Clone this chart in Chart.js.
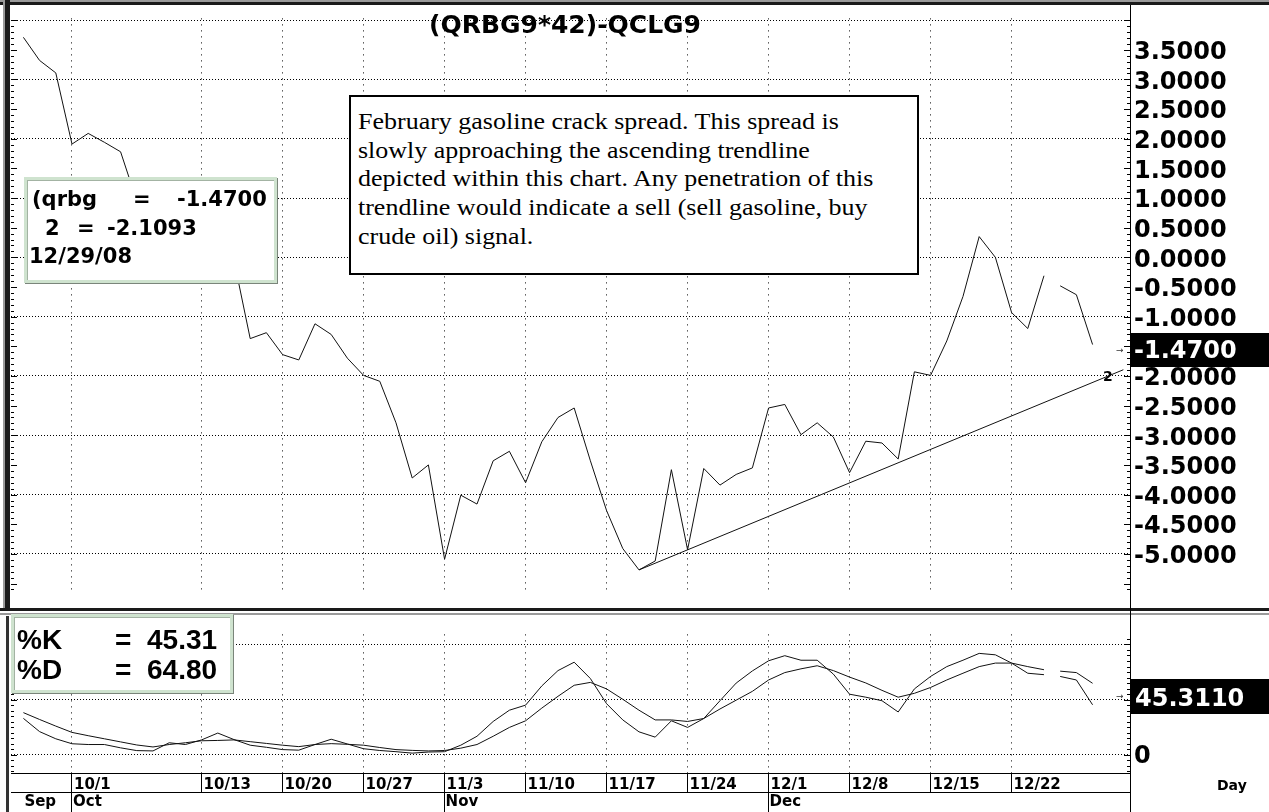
<!DOCTYPE html>
<html>
<head>
<meta charset="utf-8">
<title>(QRBG9*42)-QCLG9</title>
<script src="https://cdn.jsdelivr.net/npm/chart.js@4.4.1/dist/chart.umd.min.js"></script>
<style>
  body { margin: 0; background: #fff; width: 1269px; height: 812px; overflow: hidden; position: relative; }
  canvas { position: absolute; left: 0; }
  #painel { top: 0; }
  #estoc { top: 616px; }
  .bar { position: absolute; }
  .t { position: absolute; white-space: pre; }
  .caixa { position: absolute; box-sizing: border-box; background: #fff; }
  .verde { border: 3px solid #cfe3cf; box-shadow: 1px 1px 0 #7a857a, inset 1px 1px 0 #a3b3a3; }
</style>
</head>
<body>
<canvas id="painel" width="1269" height="608"></canvas>
<canvas id="estoc" width="1269" height="196"></canvas>
<script>
// one slot per weekday, 9/26/08 .. 12/29/08
let xMin = -0.765;
let xMax = 68.31;

// (QRBG9*42)-QCLG9 daily close
let spread = [
  3.71, 3.32, 3.11, 1.91, 2.09, 1.94, 1.78, 0.95, 0.55, 0.75,
  0.35, 0.45, 0.10, -0.05, -1.37, -1.27, -1.64, -1.73, -1.12, -1.30,
  -1.70, -1.99, -2.09, -2.79, -3.72, -3.50, -5.09, -4.01, -4.16, -3.43,
  -3.27, -3.80, -3.11, -2.70, -2.54, -3.43, -4.27, -4.91, -5.27, -5.12,
  -3.58, -4.93, -3.56, -3.84, -3.66, -3.55, -2.54, -2.48, -2.99, -2.79,
  -3.03, -3.63, -3.10, -3.13, -3.40, -1.93, -1.99, -1.41, -0.66, 0.35,
  0.00, -0.93, -1.20, -0.31, -0.48, -0.63, -1.47
];

// stochastic
let pctK = [
  33, 21, 14.5, 10, 9.3, 9.3, 6.3, 3.8, 3.5, 10.9,
  9.3, 13.5, 19.7, 13.8, 8.7, 6.8, 4.7, 4.2, 9.3, 14.1,
  9.8, 5.5, 3.9, 2.8, 1.5, 2.5, 2.8, 8.7, 16.8, 30.2,
  40.4, 45, 62.4, 76.3, 83.9, 69.1, 46.3, 31.6, 20.8, 16,
  30.8, 24.8, 32.9, 49, 65, 76, 85.2, 89.8, 85.7, 85.7,
  73.1, 54.9, 52.2, 49, 38.8, 59.7, 71, 79.9, 85.7, 91.9,
  90.6, 83.1, 73.9, 72.6, 71, 67.8, 45.31
];
let pctD = [
  38.2, 32, 26, 20.3, 17.3, 14.5, 11.7, 8.9, 7.1, 9.3,
  10.9, 12.7, 13, 13.5, 11.9, 10.3, 8.7, 7.4, 9.3, 10.1,
  9.5, 8.7, 6.6, 4.7, 4, 3.5, 3.9, 6, 9.3, 16.8,
  24.8, 30.8, 42.3, 53, 63, 65.6, 59.7, 50.3, 40.4, 31.6,
  31.6, 30.2, 32.9, 41.5, 49.5, 57.5, 67.8, 74.5, 77.9, 80.7,
  76.3, 70.4, 65.1, 58.4, 52.2, 55.7, 61, 67.8, 73.9, 79.9,
  83.1, 83.1, 79.9, 77.1, 75.8, 74.5, 64.8
];
let gapAfter = 63; // no segment 12/24 -> 12/25

// trendline "2"
let trendX = [38, 67.9];
let trendY = [-5.27, -1.895];

let dateSlots = [3, 11, 16, 21, 26, 31, 36, 41, 46, 51, 56, 61];
let dateLabels = ["10/1", "10/13", "10/20", "10/27", "11/3", "11/10", "11/17", "11/24", "12/1", "12/8", "12/15", "12/22"];
let monthSlots = [0, 3, 26, 46];
let monthLabels = ["Sep", "Oct", "Nov", "Dec"];

let priceTicks = [4.0, 3.5, 3.0, 2.5, 2.0, 1.5, 1.0, 0.5, 0.0, -0.5, -1.0, -1.5, -2.0, -2.5, -3.0, -3.5, -4.0, -4.5, -5.0];
let stochTicks = [0, 50, 100];

let tinta = "#111";
let pontos = arr => arr.map((v, i) => ({ x: i, y: v }));
let corGap = c => c.p0DataIndex === gapAfter ? "rgba(0,0,0,0)" : tinta;

// small tick marks along both vertical edges
let marquinhas = {
  id: "marquinhas",
  afterDraw(chart, args, opts) {
    let ctx = chart.ctx;
    let a = chart.chartArea;
    let y = chart.scales.y;
    ctx.save();
    ctx.strokeStyle = "#000";
    ctx.lineWidth = 1;
    ctx.beginPath();
    let n0 = Math.ceil(y.min / opts.step);
    let n1 = Math.floor(y.max / opts.step);
    for (let n = n0; n <= n1; n++) {
      let py = Math.round(y.getPixelForValue(n * opts.step)) + 0.5;
      let len = n % opts.major === 0 ? 6 : 3;
      ctx.moveTo(a.left, py); ctx.lineTo(a.left + len, py);
      ctx.moveTo(a.right - len, py); ctx.lineTo(a.right, py);
    }
    ctx.stroke();
    ctx.restore();
  }
};

let fonteEixo = { family: "DejaVu Sans", weight: "bold", size: 24 };
let fonteData = { family: "DejaVu Sans", weight: "bold", size: 15 };

new Chart(document.getElementById("painel"), {
  type: "line",
  data: {
    datasets: [
      { data: pontos(spread), borderColor: tinta, borderWidth: 1, pointRadius: 0, tension: 0, segment: { borderColor: corGap } },
      { data: trendX.map((x, i) => ({ x: x, y: trendY[i] })), borderColor: tinta, borderWidth: 1, pointRadius: 0 }
    ]
  },
  options: {
    responsive: false,
    animation: false,
    devicePixelRatio: 1,
    layout: { padding: { left: 11, top: 8, right: 0, bottom: 0 } },
    plugins: { legend: { display: false }, tooltip: { enabled: false }, marquinhas: { step: 0.1, major: 5 } },
    scales: {
      x: {
        type: "linear", min: xMin, max: xMax,
        afterBuildTicks: s => { s.ticks = dateSlots.map(v => ({ value: v })); },
        ticks: { display: false },
        grid: { color: "#000", drawTicks: false },
        border: { display: false, dash: [1, 5] }
      },
      y: {
        position: "right", min: -5.602, max: 4.029,
        afterBuildTicks: s => { s.ticks = priceTicks.map(v => ({ value: v })); },
        afterFit: s => { s.width = 139; },
        ticks: { color: "#000", font: fonteEixo, padding: 4, labelOffset: 3, callback: v => v > 3.6 ? "" : v.toFixed(4) },
        grid: { color: c => Number.isInteger(c.tick.value) ? "#000" : "rgba(0,0,0,0)", drawTicks: false },
        border: { display: true, color: "#000", dash: [1, 2] }
      }
    }
  },
  plugins: [marquinhas]
});

new Chart(document.getElementById("estoc"), {
  type: "line",
  data: {
    datasets: [
      { data: pontos(pctK), borderColor: tinta, borderWidth: 1, pointRadius: 0, tension: 0, segment: { borderColor: corGap } },
      { data: pontos(pctD), borderColor: tinta, borderWidth: 1, pointRadius: 0, tension: 0, segment: { borderColor: corGap } }
    ]
  },
  options: {
    responsive: false,
    animation: false,
    devicePixelRatio: 1,
    layout: { padding: { left: 11, top: 1, right: 0, bottom: 0 } },
    plugins: { legend: { display: false }, tooltip: { enabled: false }, marquinhas: { step: 5, major: 10 } },
    scales: {
      x: {
        type: "linear", min: xMin, max: xMax, position: "bottom", weight: 0,
        afterBuildTicks: s => { s.ticks = dateSlots.map(v => ({ value: v })); },
        afterFit: s => { s.height = 19; },
        ticks: { display: true, align: "start", padding: -16, labelOffset: 2, autoSkip: false, maxRotation: 0, minRotation: 0,
                 color: "#000", font: fonteData, callback: (v, i) => dateLabels[i] },
        grid: { color: "#000", tickColor: "#000", tickLength: 19, tickBorderDash: [] },
        border: { display: true, color: "#000", dash: [1, 5] }
      },
      x2: {
        type: "linear", min: xMin, max: xMax, position: "bottom", weight: 1,
        afterBuildTicks: s => { s.ticks = monthSlots.map(v => ({ value: v })); },
        afterFit: s => { s.height = 20; },
        ticks: { display: true, align: "start", padding: -19, labelOffset: 1, autoSkip: false, maxRotation: 0, minRotation: 0,
                 color: "#000", font: fonteData, callback: (v, i) => monthLabels[i] },
        grid: { drawOnChartArea: false, tickLength: 20, color: c => c.index === 0 ? "rgba(0,0,0,0)" : "#000",
                tickColor: c => c.index === 0 ? "rgba(0,0,0,0)" : "#000" },
        border: { display: true, color: "#000" }
      },
      y: {
        position: "right", min: -16.5, max: 109.1,
        afterBuildTicks: s => { s.ticks = stochTicks.map(v => ({ value: v })); },
        afterFit: s => { s.width = 139; },
        ticks: { color: "#000", font: fonteEixo, padding: 4, labelOffset: 2, callback: v => v === 0 ? "0" : "" },
        grid: { color: "#000", drawTicks: false },
        border: { display: true, color: "#000", dash: [1, 2] }
      }
    }
  },
  plugins: [marquinhas]
});

// frame, boxes and text overlays
function barra(x, y, w, h, cor) {
  let d = document.createElement("div");
  d.className = "bar";
  d.style.cssText = `left:${x}px;top:${y}px;width:${w}px;height:${h}px;background:${cor};`;
  document.body.appendChild(d);
}
function caixa(x, y, w, h, classe, estilo) {
  let d = document.createElement("div");
  d.className = "caixa " + (classe || "");
  d.style.cssText = `left:${x}px;top:${y}px;width:${w}px;height:${h}px;` + (estilo || "");
  document.body.appendChild(d);
}
function texto(s, x, base, size, o) {
  o = o || {};
  let fam = o.fam || '"DejaVu Sans"';
  let k = o.k || 0.846;
  let d = document.createElement("div");
  d.className = "t";
  d.textContent = s;
  d.style.cssText = `left:${x}px;top:${base - k * size}px;font:${o.peso || "bold"} ${size}px ${fam};line-height:${size}px;color:${o.cor || "#000"};`;
  if (o.sx) { d.style.transform = `scaleX(${o.sx})`; d.style.transformOrigin = "0 0"; }
  document.body.appendChild(d);
}

barra(0, 0, 1269, 2, "#9a9a9a");
barra(0, 2, 1269, 3, "#1a1a1a");
barra(3, 0, 2, 608, "#9a9a9a");
barra(5, 0, 5, 608, "#1a1a1a");
barra(6, 616, 3, 196, "#333");
barra(0, 608, 1269, 3, "#1a1a1a");
barra(0, 613, 1269, 2, "#9a9a9a");
barra(1130, 5, 1, 807, "#000");

// title
texto("(QRBG9*42)-QCLG9", 429, 33, 25);

// readout box
caixa(24, 177, 253, 106, "verde");
texto("(qrbg", 32, 207, 21);
texto("=", 133, 207, 21);
texto("-1.4700", 177, 207, 21);
texto("2", 45, 236, 21);
texto("=", 77, 236, 21);
texto("-2.1093", 107, 236, 21);
texto("12/29/08", 29, 264, 21);

// comment box
caixa(349, 95, 570, 180, "", "border:2px solid #000;");
let nota = [
  "February gasoline crack spread. This spread is",
  "slowly approaching the ascending trendline",
  "depicted within this chart. Any penetration of this",
  "trendline would indicate a sell (sell gasoline, buy",
  "crude oil) signal."
];
nota.forEach((l, i) => texto(l, 358, 130 + i * 28.75, 22.8, { fam: '"Liberation Serif", serif', peso: "normal", k: 0.838, sx: 1.14 }));

// last value markers
caixa(1130, 333, 139, 34, "", "background:#000;");
texto("-1.4700", 1134, 358, 24, { cor: "#fff" });
texto("\u2192", 1116, 354, 9, { peso: "normal", cor: "#333" });
texto("2", 1103, 381, 14);

caixa(1130, 679, 139, 35, "", "background:#000;");
texto("45.3110", 1135, 706, 24, { cor: "#fff" });
texto("\u2192", 1116, 700, 9, { peso: "normal", cor: "#333" });

// stochastic readout
caixa(11, 614, 222, 79, "verde");
texto("%K", 17, 650, 28, { fam: '"Liberation Sans"', k: 0.847 });
texto("=", 115, 650, 28, { fam: '"Liberation Sans"', k: 0.847 });
texto("45.31", 147, 650, 28, { fam: '"Liberation Sans"', k: 0.847 });
texto("%D", 17, 680, 28, { fam: '"Liberation Sans"', k: 0.847 });
texto("=", 115, 680, 28, { fam: '"Liberation Sans"', k: 0.847 });
texto("64.80", 147, 680, 28, { fam: '"Liberation Sans"', k: 0.847 });

texto("Day", 1217, 790, 14);
</script>
</body>
</html>
